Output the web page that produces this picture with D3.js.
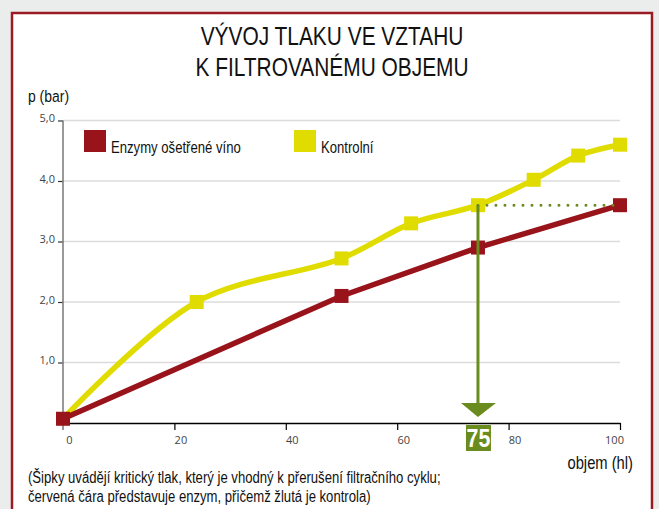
<!DOCTYPE html>
<html><head><meta charset="utf-8">
<script src="https://cdn.jsdelivr.net/npm/d3@7"></script>
<style>
html,body{margin:0;padding:0;background:#ebecec;}
svg{display:block;}
</style></head>
<body>
<svg id="chart" width="659" height="509"></svg>
<script>
const titleLines = ["VÝVOJ TLAKU VE VZTAHU", "K FILTROVANÉMU OBJEMU"];
const yAxisTitle = "p (bar)";
const xAxisTitle = "objem (hl)";
const noteLines = ["(Šipky uvádějí kritický tlak, který je vhodný k přerušení filtračního cyklu;",
                   "červená čára představuje enzym, přičemž žlutá je kontrola)"];
const seriesNames = ["Enzymy ošetřené víno", "Kontrolní"];
const enzymeX = [0, 50, 74.5, 100];
const enzymeY = [0.07, 2.1, 2.9, 3.6];
const controlX = [0, 24, 50, 62.5, 74.5, 84.5, 92.5, 100];
const controlY = [0.07, 2.0, 2.72, 3.3, 3.6, 4.02, 4.42, 4.6];
const xTicks = [0, 20, 40, 60, 80, 100];
const yTicks = [1, 2, 3, 4, 5];
const criticalX = 74.5;
const criticalY = 3.6;
const criticalLabel = "75";

const RED = "#99131b", YEL = "#e1dc00", GRN = "#6a8c1e";
const SANS = "'Liberation Sans',Arial,sans-serif";
const SMALL = "'Open Sans','Noto Sans',sans-serif";
const SQ = 0.82;

const svg = d3.select("#chart");

function ntext(parent, tx, ty, str, size, anchor, weight, fill) {
  return parent.append("text")
    .attr("transform", `translate(${tx},${ty}) scale(${SQ},1)`)
    .attr("text-anchor", anchor || "start")
    .attr("font-family", SANS).attr("font-size", size)
    .attr("font-weight", weight || "normal")
    .attr("fill", fill || "#111").text(str);
}

svg.append("rect").attr("x", 12).attr("y", 13).attr("width", 640).attr("height", 520)
  .attr("fill", "#fff").attr("stroke", "#9b1b22").attr("stroke-width", 2.5);

titleLines.forEach((t, i) => ntext(svg, 332, 45 + i * 31, t, 25.5, "middle"));

const x = d3.scaleLinear().domain([0, 100]).range([63, 620]);
const y = d3.scaleLinear().domain([0, 5]).range([423, 120.5]);

ntext(svg, 28, 102, yAxisTitle, 17);

// gridlines
svg.append("g").selectAll("line").data(yTicks).join("line")
  .attr("x1", x(0)).attr("x2", x(100)).attr("y1", d => y(d)).attr("y2", d => y(d))
  .attr("stroke", "#dcdcdc").attr("stroke-width", 1.5);

// y axis
const yAxis = svg.append("g").attr("transform", `translate(${x(0)},0)`)
  .call(d3.axisLeft(y).tickValues(yTicks).tickSize(5).tickPadding(3)
    .tickFormat(d => d3.format(".1f")(d).replace(".", ",")));
yAxis.select(".domain").remove();
yAxis.selectAll(".tick line").attr("stroke", "#333").attr("stroke-width", 1.2);
yAxis.selectAll(".tick text").attr("font-family", SMALL).attr("font-size", 11)
  .attr("fill", "#444").attr("dy", "0.1em");
svg.append("line").attr("x1", x(0)).attr("x2", x(0)).attr("y1", y(5)).attr("y2", 430)
  .attr("stroke", "#777").attr("stroke-width", 1.5);

// x axis
const xAxis = svg.append("g").attr("transform", `translate(0,${y(0)})`)
  .call(d3.axisBottom(x).tickValues(xTicks).tickSize(7).tickPadding(6).tickSizeOuter(0));
xAxis.select(".domain").attr("stroke", "#000").attr("stroke-width", 1.5);
xAxis.selectAll(".tick line").attr("stroke", "#000").attr("stroke-width", 1.2)
  .filter(d => d === 0).remove();
xAxis.selectAll(".tick text").attr("font-family", SMALL).attr("font-size", 11)
  .attr("fill", "#444").attr("dx", d => d === 100 ? -6 : 6);

ntext(svg, 633, 469, xAxisTitle, 18, "end");

noteLines.forEach((t, i) => ntext(svg, 28, 483 + i * 19, t, 16));

// lines
const enzyme = enzymeX.map((v, i) => [v, enzymeY[i]]);
const control = controlX.map((v, i) => [v, controlY[i]]);
const lineLin = d3.line().x(d => x(d[0])).y(d => y(d[1]));
const lineCurve = d3.line().x(d => x(d[0])).y(d => y(d[1])).curve(d3.curveCatmullRom.alpha(0.5));

svg.append("path").datum(control).attr("d", lineCurve).attr("fill", "none")
  .attr("stroke", YEL).attr("stroke-width", 5.5);
svg.append("path").datum(enzyme).attr("d", lineLin).attr("fill", "none")
  .attr("stroke", RED).attr("stroke-width", 5.5);

const ms = 14;
svg.append("g").selectAll("rect").data(control.slice(1)).join("rect")
  .attr("x", d => x(d[0]) - ms / 2).attr("y", d => y(d[1]) - ms / 2)
  .attr("width", ms).attr("height", ms).attr("fill", YEL);
svg.append("g").selectAll("rect").data(enzyme).join("rect")
  .attr("x", d => x(d[0]) - ms / 2).attr("y", d => y(d[1]) - ms / 2)
  .attr("width", ms).attr("height", ms).attr("fill", RED);

// critical marker
svg.append("line").attr("x1", x(criticalX)).attr("x2", x(100)).attr("y1", y(criticalY)).attr("y2", y(criticalY))
  .attr("stroke", GRN).attr("stroke-width", 3).attr("stroke-linecap", "round")
  .attr("stroke-dasharray", "0,9");
svg.append("line").attr("x1", x(criticalX)).attr("x2", x(criticalX)).attr("y1", y(criticalY)).attr("y2", 405)
  .attr("stroke", GRN).attr("stroke-width", 3);
const ax = x(criticalX);
svg.append("path").attr("d", `M${ax - 17},403 L${ax + 18},403 L${ax},417 Z`).attr("fill", GRN);
svg.append("rect").attr("x", ax - 12).attr("y", 425).attr("width", 25).attr("height", 26).attr("fill", GRN);
ntext(svg, ax + 0.5, 447, criticalLabel, 26, "middle", "bold", "#fff");

// legend
const legend = svg.append("g");
[[84, RED], [294, YEL]].forEach(([lx, c], i) => {
  legend.append("rect").attr("x", lx).attr("y", 130).attr("width", 22).attr("height", 22).attr("fill", c);
  ntext(legend, lx + 27, 153, seriesNames[i], 16);
});
</script>
</body></html>
